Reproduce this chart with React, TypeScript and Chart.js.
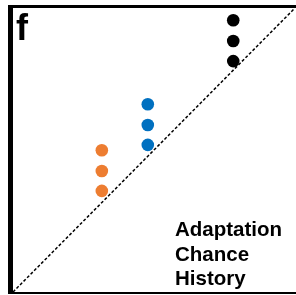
import React, { useEffect, useRef } from "react";
import { Chart, registerables } from "chart.js";

Chart.register(...registerables);

const panelLabel = "f";
const legendLines = ["Adaptation", "Chance", "History"];
const adaptationX = [0.315, 0.315, 0.315];
const adaptationY = [0.499, 0.426, 0.356];
const chanceX = [0.478, 0.478, 0.478];
const chanceY = [0.661, 0.588, 0.518];
const historyX = [0.781, 0.781, 0.781];
const historyY = [0.957, 0.884, 0.813];
const diagonalX = [0, 1];
const diagonalY = [0, 1];

const toPts = (xs: number[], ys: number[]) => xs.map((x, i) => ({ x, y: ys[i] }));

const decor = {
  id: "decor",
  afterDraw(chart: any) {
    const { ctx, chartArea } = chart;
    const { left, right, top, bottom } = chartArea;
    ctx.save();
    ctx.fillStyle = "#000";
    // left thick border
    ctx.fillRect(left - 5, top - 3, 5, bottom - top + 5);
    // top border
    ctx.fillRect(left - 5, top - 3, right - left + 10, 3);
    // bottom border
    ctx.fillRect(left - 5, bottom, right - left + 10, 2);
    // panel label
    ctx.font = "bold 36px 'Liberation Sans', Arial, sans-serif";
    ctx.textBaseline = "alphabetic";
    ctx.textAlign = "left";
    ctx.fillText(panelLabel, left + 3, top + 32);
    // legend text
    ctx.font = "bold 20.5px 'Liberation Sans', Arial, sans-serif";
    legendLines.forEach((t, i) => {
      ctx.fillText(t, 175, 236 + i * 24.5);
    });
    ctx.restore();
  },
};

export default function App() {
  const ref = useRef<HTMLCanvasElement>(null);
  useEffect(() => {
    const chart = new Chart(ref.current!, {
      type: "scatter",
      data: {
        datasets: [
          {
            type: "line",
            data: toPts(diagonalX, diagonalY),
            borderColor: "#000",
            borderWidth: 1.5,
            borderDash: [3, 2],
            pointRadius: 0,
            fill: false,
          } as any,
          {
            data: toPts(adaptationX, adaptationY),
            backgroundColor: "#ED7D31",
            borderColor: "#ED7D31",
            pointRadius: 6.3,
            borderWidth: 0,
          },
          {
            data: toPts(chanceX, chanceY),
            backgroundColor: "#0070C0",
            borderColor: "#0070C0",
            pointRadius: 6.3,
            borderWidth: 0,
          },
          {
            data: toPts(historyX, historyY),
            backgroundColor: "#000000",
            borderColor: "#000000",
            pointRadius: 6.3,
            borderWidth: 0,
          },
        ],
      },
      options: {
        animation: false,
        responsive: false,
        maintainAspectRatio: false,
        layout: { autoPadding: false, padding: { left: 13, right: 1, top: 8, bottom: 3 } },
        plugins: { legend: { display: false }, tooltip: { enabled: false } },
        scales: {
          x: { type: "linear", min: 0, max: 1, display: false },
          y: { type: "linear", min: 0, max: 1, display: false },
        },
      },
      plugins: [decor],
    });
    return () => chart.destroy();
  }, []);
  return (
    <div style={{ position: "fixed", left: 0, top: 0, width: 296, height: 295, background: "#fff" }}>
      <canvas ref={ref} width={296} height={295} style={{ width: 296, height: 295, display: "block" }} />
    </div>
  );
}
